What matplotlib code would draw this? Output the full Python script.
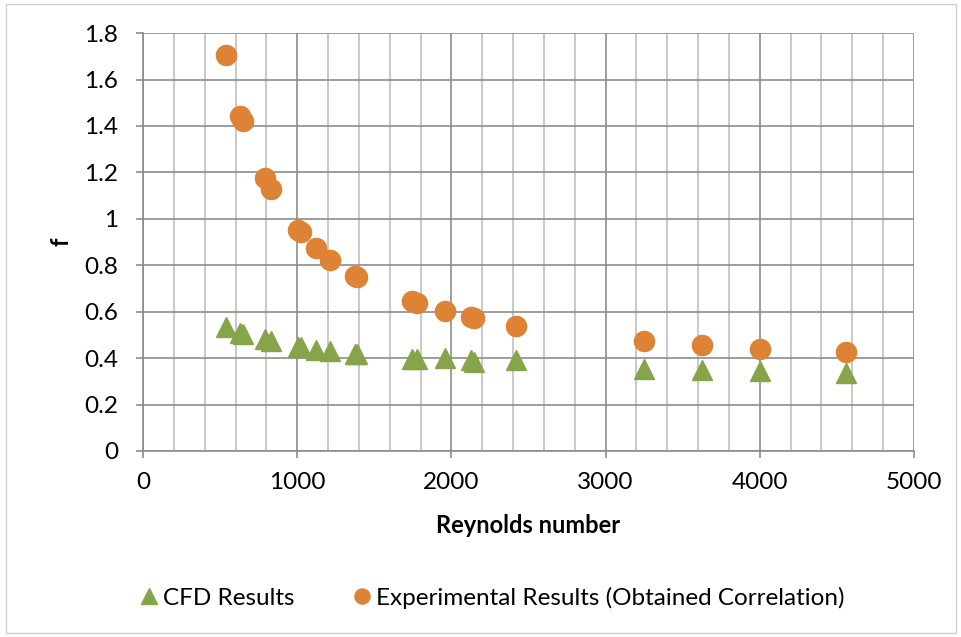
import matplotlib
matplotlib.use("Agg")
import matplotlib.pyplot as plt
from matplotlib.patches import Rectangle
from matplotlib.ticker import MultipleLocator

reynolds = [540, 632, 650, 792, 832, 1008, 1022, 1122, 1213, 1373, 1388,
            1745, 1775, 1956, 2125, 2145, 2419, 3248, 3625, 4000, 4561]
f_exp = [1.706, 1.442, 1.420, 1.176, 1.127, 0.953, 0.945, 0.873, 0.824, 0.755, 0.748,
         0.645, 0.638, 0.601, 0.578, 0.572, 0.537, 0.473, 0.456, 0.441, 0.426]
f_cfd = [0.535, 0.510, 0.505, 0.482, 0.473, 0.450, 0.447, 0.436, 0.431, 0.418, 0.416,
         0.398, 0.396, 0.400, 0.390, 0.385, 0.393, 0.354, 0.348, 0.344, 0.337]
labels = ["CFD Results", "Experimental Results (Obtained Correlation)"]
ytick_labels = ['0', '0.2', '0.4', '0.6', '0.8', '1', '1.2', '1.4', '1.6', '1.8']

plt.rcParams['font.family'] = ['Lato', 'DejaVu Sans']

fig = plt.figure(figsize=(9.62, 6.37), dpi=100)
fig.patches.append(Rectangle((0.006, 0.006), 0.988, 0.988, transform=fig.transFigure,
                             fill=False, edgecolor='#d0d0d0', linewidth=1.0))
ax = fig.add_axes([0.1487, 0.292, 0.8013, 0.656])

green = '#86A44A'
orange = '#DE8336'
ax.plot(reynolds, f_cfd, linestyle='none', marker='^', markersize=15,
        color=green, label=labels[0], zorder=3)
ax.plot(reynolds, f_exp, linestyle='none', marker='o', markersize=14.5,
        color=orange, label=labels[1], zorder=3)

ax.set_xlim(0, 5000)
ax.set_ylim(0, 1.8)
ax.xaxis.set_major_locator(MultipleLocator(1000))
ax.xaxis.set_minor_locator(MultipleLocator(200))
ax.set_yticks([i * 0.2 for i in range(len(ytick_labels))])
ax.set_yticklabels(ytick_labels)

ax.grid(which='minor', axis='x', color='#c0c0c0', linewidth=1.2)
ax.grid(which='major', axis='x', color='#8c8c8c', linewidth=1.2)
ax.grid(which='major', axis='y', color='#8c8c8c', linewidth=1.2)
ax.set_axisbelow(True)
for s in ['top', 'right']:
    ax.spines[s].set_visible(False)
for s in ['left', 'bottom']:
    ax.spines[s].set_color('#8c8c8c')
    ax.spines[s].set_linewidth(1.2)
ax.tick_params(which='major', length=5, color='#8c8c8c', width=1.2, labelsize=17.5,
               labelcolor='#000000')
ax.tick_params(axis='y', pad=13)
ax.tick_params(axis='x', pad=10)
ax.tick_params(which='minor', length=0)

ax.set_xlabel('Reynolds number', fontsize=17, fontweight='bold', labelpad=15)
ax.set_ylabel('f', fontsize=17, fontweight='bold', labelpad=8)

fig.legend(loc='center', bbox_to_anchor=(0.51, 0.062), ncol=2, frameon=False,
           fontsize=17.5, handletextpad=0.05, columnspacing=2.3, markerscale=0.75,
           handlelength=1.0)

fig.savefig('out.png', dpi=100)
